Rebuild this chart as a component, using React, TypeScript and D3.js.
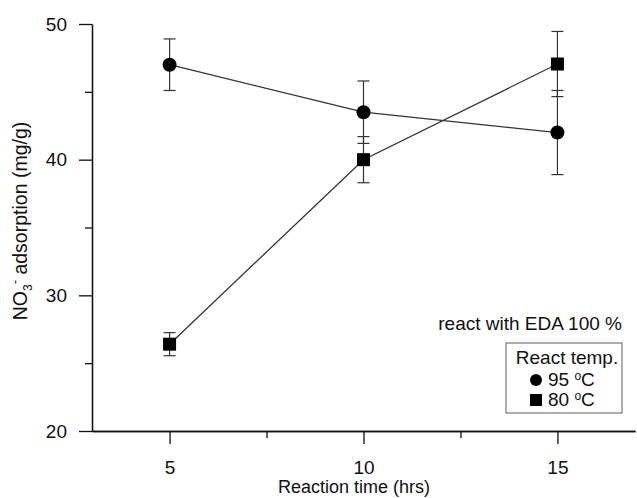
import React, { useEffect, useRef } from 'react'
import * as d3 from 'd3'

const width = 637
const height = 498
const margin = { top: 24, right: 2, bottom: 67, left: 92 }
const font = '"Liberation Sans", Arial, sans-serif'
const fs = 19

// reaction time (hrs)
const times = [5, 10, 15]
// NO3- adsorption (mg/g), mean and error
const temp95 = [47.0, 43.5, 42.0]
const err95 = [1.9, 2.3, 3.1]
const temp80 = [26.4, 40.0, 47.05]
const err80 = [0.85, 1.7, 2.4]

const xTicks = [5, 10, 15]
const xMinorTicks = [7.5, 12.5]
const yTicks = [20, 30, 40, 50]
const yMinorTicks = [25, 35, 45]

const legendTitle = 'React temp.'
const legendLabels = ['95', '80']
const note = 'react with EDA 100 %'

export default function App() {
  const gX = useRef<SVGGElement>(null)
  const gXMinor = useRef<SVGGElement>(null)
  const gY = useRef<SVGGElement>(null)
  const gYMinor = useRef<SVGGElement>(null)

  const xScale = d3.scaleLinear()
    .domain([3, 17])
    .range([margin.left, width - margin.right])

  const yScale = d3.scaleLinear()
    .domain([20, 50])
    .range([height - margin.bottom, margin.top])

  useEffect(() => {
    const xAxis = d3.axisBottom(xScale).tickValues(xTicks).tickSize(13).tickSizeOuter(0).tickPadding(17)
    const xMinor = d3.axisBottom(xScale).tickValues(xMinorTicks).tickSize(7).tickSizeOuter(0).tickFormat(() => '')
    const yAxis = d3.axisLeft(yScale).tickValues(yTicks).tickSize(13).tickSizeOuter(0).tickPadding(12)
    const yMinor = d3.axisLeft(yScale).tickValues(yMinorTicks).tickSize(7).tickSizeOuter(0).tickFormat(() => '')

    d3.select(gX.current!).call(xAxis)
    d3.select(gXMinor.current!).call(xMinor)
    d3.select(gY.current!).call(yAxis)
    d3.select(gYMinor.current!).call(yMinor)

    d3.selectAll('.axis path, .axis line').attr('stroke', '#111').attr('stroke-width', 1.3)
    d3.selectAll('.axis text')
      .attr('font-family', font)
      .attr('font-size', fs)
      .attr('fill', '#111')
  }, [])

  const line = d3.line<number>()
    .x((d, i) => xScale(times[i]))
    .y(d => yScale(d))

  const errorBars = (vals: number[], errs: number[], key: string) =>
    vals.map((v, i) => {
      const x = xScale(times[i])
      const y1 = yScale(v + errs[i])
      const y2 = yScale(v - errs[i])
      return (
        <g key={key + i} stroke='#333' strokeWidth={1.2}>
          <line x1={x} x2={x} y1={y1} y2={y2} />
          <line x1={x - 6} x2={x + 6} y1={y1} y2={y1} />
          <line x1={x - 6} x2={x + 6} y1={y2} y2={y2} />
        </g>
      )
    })

  const lx = 506
  const ly = 343

  return (
    <svg width={width} height={height}
      style={{ position: 'absolute', left: 0, top: 0, background: '#fff' }}
      fontFamily={font}>

      {errorBars(temp95, err95, 'e95')}
      {errorBars(temp80, err80, 'e80')}

      <path d={line(temp95)!} fill='none' stroke='#333' strokeWidth={1.3} />
      <path d={line(temp80)!} fill='none' stroke='#333' strokeWidth={1.3} />

      {temp95.map((v, i) => (
        <circle key={'c' + i} cx={xScale(times[i])} cy={yScale(v)} r={7} fill='#000' />
      ))}
      {temp80.map((v, i) => (
        <rect key={'s' + i} x={xScale(times[i]) - 6.5} y={yScale(v) - 6.5} width={13} height={13} fill='#000' />
      ))}

      <g className='axis' ref={gX} transform={'translate(0,' + (height - margin.bottom) + ')'} />
      <g className='axis' ref={gXMinor} transform={'translate(0,' + (height - margin.bottom) + ')'} />
      <g className='axis' ref={gY} transform={'translate(' + margin.left + ',0)'} />
      <g className='axis' ref={gYMinor} transform={'translate(' + margin.left + ',0)'} />

      <text x={622} y={330} textAnchor='end' fontSize={fs} fill='#111'>{note}</text>

      <rect x={lx} y={ly} width={116} height={70} fill='#fff' stroke='#777' strokeWidth={1.2} />
      <text x={lx + 61} y={ly + 21} textAnchor='middle' fontSize={fs} fill='#111'>{legendTitle}</text>
      {legendLabels.map((lab, i) => (
        <g key={'lg' + i}>
          {i === 0
            ? <circle cx={lx + 30} cy={ly + 37 + i * 20} r={6} fill='#000' />
            : <rect x={lx + 24} y={ly + 31 + i * 20} width={12} height={12} fill='#000' />}
          <text x={lx + 42} y={ly + 43 + i * 20} fontSize={fs} fill='#111'>
            {lab + ' '}
            <tspan fontSize={12} dy={-6}>o</tspan>
            <tspan dy={6}>C</tspan>
          </text>
        </g>
      ))}

      <text x={354} y={493} textAnchor='middle' fontSize={18} fill='#111'>Reaction time (hrs)</text>

      <text transform={'translate(27,' + 221 + ') rotate(-90)'}
        textAnchor='middle' fontSize={19.5} fill='#111'>
        NO<tspan fontSize={12} dy={5}>3</tspan><tspan fontSize={13} dy={-13}>-</tspan><tspan dy={8}> adsorption (mg/g)</tspan>
      </text>
    </svg>
  )
}
